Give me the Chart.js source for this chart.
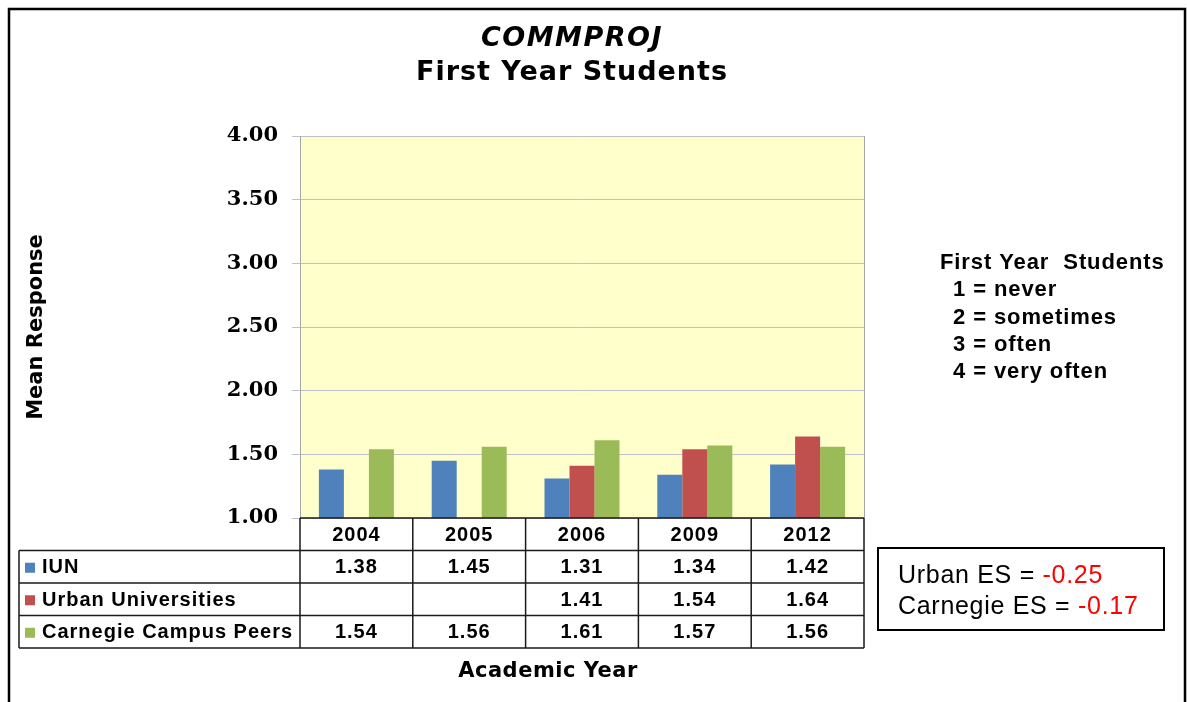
<!DOCTYPE html>
<html lang="en">
<head>
    <meta charset="UTF-8">
    <title>COMMPROJ - First Year Students</title>
    <script src="https://cdn.jsdelivr.net/npm/chart.js@4.4.0/dist/chart.umd.min.js"></script>
    <style>
        body { margin: 0; background: #fff; }
    </style>
</head>
<body>

    <canvas id="graph" width="1187" height="702"></canvas>
    <script>

        const years = ['2004', '2005', '2006', '2009', '2012'];
        const iun = [1.38, 1.45, 1.31, 1.34, 1.42];
        const urban = [null, null, 1.41, 1.54, 1.64];
        const carnegie = [1.54, 1.56, 1.61, 1.57, 1.56];
        const seriesNames = ['IUN', 'Urban Universities', 'Carnegie Campus Peers'];
        const seriesColors = ['#4F81BD', '#C0504D', '#9BBB59'];

        const titleLines = ['COMMPROJ', 'First Year Students'];
        const scaleNote = ['First Year  Students', '1 = never', '2 = sometimes', '3 = often', '4 = very often'];
        const esNames = ['Urban ES = ', 'Carnegie ES = '];
        const esValues = ['-0.25', '-0.17'];

        const sans = '"DejaVu Sans", Verdana, sans-serif';
        const arial = '"Liberation Sans", Arial, sans-serif';

        // everything Excel drew around the plot: frame, titles, data table, notes
        const extras = {
            id: 'extras',
            beforeDraw(chart) {
                const ctx = chart.ctx;
                const a = chart.chartArea;
                ctx.save();
                ctx.fillStyle = '#FFFFCC';
                ctx.fillRect(a.left, a.top, a.right - a.left, a.bottom - a.top);
                ctx.restore();
            },
            afterDraw(chart) {
                const ctx = chart.ctx;
                const a = chart.chartArea;
                const x = chart.scales.x;
                ctx.save();

                // plot border (right side)
                ctx.strokeStyle = '#A6A6A6';
                ctx.lineWidth = 1;
                ctx.beginPath();
                ctx.moveTo(a.right + 0.5, a.top);
                ctx.lineTo(a.right + 0.5, a.bottom);
                ctx.stroke();

                // outer frame
                ctx.strokeStyle = '#000';
                ctx.lineWidth = 2.5;
                ctx.strokeRect(9, 9, 1176, 720);

                // titles
                ctx.fillStyle = '#000';
                ctx.textAlign = 'center';
                ctx.textBaseline = 'middle';
                ctx.font = 'italic bold 27px ' + sans;
                ctx.letterSpacing = '1.5px';
                ctx.fillText(titleLines[0], 572, 39);
                ctx.font = 'bold 27px ' + sans;
                ctx.letterSpacing = '1px';
                ctx.fillText(titleLines[1], 572, 73);

                // data table
                const colW = x.getPixelForValue(1) - x.getPixelForValue(0);
                const edges = years.map((y, i) => x.getPixelForValue(i) - colW / 2);
                edges.push(a.right);
                const rowH = 32.5;
                const top = a.bottom;
                const tableLeft = 19;
                const rows = [iun, urban, carnegie];

                ctx.strokeStyle = '#1a1a1a';
                ctx.lineWidth = 1.5;
                ctx.beginPath();
                ctx.moveTo(edges[0], top);
                ctx.lineTo(a.right, top);
                edges.forEach(e => {
                    ctx.moveTo(e, top);
                    ctx.lineTo(e, top + rowH * 4);
                });
                for (let r = 1; r <= 4; r++) {
                    ctx.moveTo(tableLeft, top + rowH * r);
                    ctx.lineTo(a.right, top + rowH * r);
                }
                ctx.moveTo(tableLeft, top + rowH);
                ctx.lineTo(tableLeft, top + rowH * 4);
                ctx.stroke();

                ctx.font = 'bold 20px ' + arial;
                ctx.letterSpacing = '1px';
                ctx.textAlign = 'center';
                years.forEach((y, i) => {
                    ctx.fillText(y, x.getPixelForValue(i), top + rowH / 2 + 1);
                });
                rows.forEach((vals, r) => {
                    const cy = top + rowH * (r + 1) + rowH / 2 + 1;
                    ctx.fillStyle = seriesColors[r];
                    ctx.fillRect(25, cy - 5, 10, 10);
                    ctx.fillStyle = '#000';
                    ctx.textAlign = 'left';
                    ctx.fillText(seriesNames[r], 42, cy);
                    ctx.textAlign = 'center';
                    vals.forEach((v, i) => {
                        if (v !== null) ctx.fillText(v.toFixed(2), x.getPixelForValue(i), cy);
                    });
                });

                // x axis title
                ctx.font = 'bold 21px ' + sans;
                ctx.letterSpacing = '0.5px';
                ctx.textAlign = 'center';
                ctx.fillText('Academic Year', 548, 672);

                // scale note
                ctx.font = 'bold 22px ' + arial;
                ctx.letterSpacing = '0.9px';
                ctx.textAlign = 'left';
                scaleNote.forEach((t, i) => {
                    ctx.fillText(t, i === 0 ? 940 : 953, 263 + i * 27.3);
                });

                // effect size box
                ctx.lineWidth = 2;
                ctx.strokeStyle = '#000';
                ctx.strokeRect(878, 548, 286, 82);
                ctx.font = '25px ' + arial;
                ctx.letterSpacing = '0.7px';
                esNames.forEach((t, i) => {
                    const cy = 576 + i * 31;
                    ctx.fillStyle = '#000';
                    ctx.fillText(t, 898, cy);
                    const w = ctx.measureText(t).width;
                    ctx.fillStyle = '#FF0000';
                    ctx.fillText(esValues[i], 898 + w, cy);
                });

                ctx.restore();
            }
        };

        const ctx = document.getElementById('graph').getContext('2d');
        const myChart = new Chart(ctx, {
            type: 'bar',
            data: {
                labels: years,
                datasets: [
                    { label: seriesNames[0], data: iun, backgroundColor: seriesColors[0] },
                    { label: seriesNames[1], data: urban, backgroundColor: seriesColors[1] },
                    { label: seriesNames[2], data: carnegie, backgroundColor: seriesColors[2] }
                ]
            },
            options: {
                responsive: false,
                animation: false,
                layout: { padding: { left: 0, top: 136, right: 323, bottom: 184 } },
                datasets: { bar: { categoryPercentage: 0.665, barPercentage: 1.0 } },
                plugins: {
                    legend: { display: false },
                    tooltip: { enabled: false }
                },
                scales: {
                    x: { display: false },
                    y: {
                        min: 1,
                        max: 4,
                        ticks: {
                            stepSize: 0.5,
                            padding: 14,
                            color: '#000',
                            font: { family: '"DejaVu Serif", Georgia, serif', size: 21, weight: 'bold' },
                            callback: v => v.toFixed(2)
                        },
                        grid: { color: '#C0C0C8', tickLength: 8 },
                        border: { color: '#A6A6A6' },
                        title: {
                            display: true,
                            text: 'Mean Response',
                            color: '#000',
                            font: { family: sans, size: 21, weight: 'bold' },
                            padding: { top: 24, bottom: 0 }
                        },
                        afterFit: scale => { scale.width = 300; }
                    }
                }
            },
            plugins: [extras]
        });

    </script>

</body>
</html>
